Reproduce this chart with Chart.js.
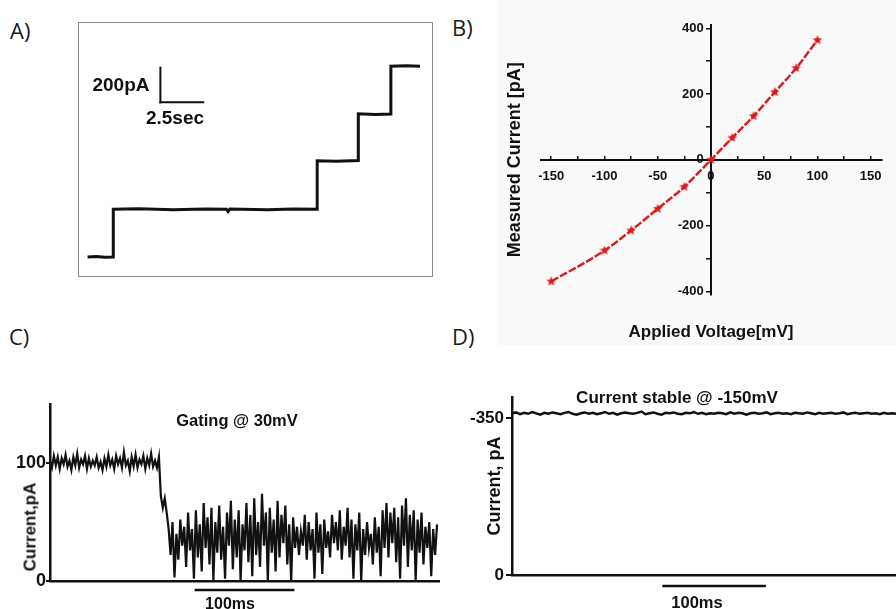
<!DOCTYPE html>
<html>
<head>
<meta charset="utf-8">
<script src="https://cdn.jsdelivr.net/npm/chart.js@4.4.1/dist/chart.umd.min.js"></script>
<style>
  body { margin: 0; width: 896px; height: 609px; position: relative; overflow: hidden; background: #fff; font-family: "Liberation Sans", Arial, sans-serif; }
  canvas { position: absolute; }
  .panel-label { position: absolute; font-family: "Open Sans", sans-serif; font-size: 22px; color: #1a1a1a; line-height: 1; transform: translateY(-50%); }
  .note { position: absolute; font-weight: bold; color: #111; white-space: nowrap; line-height: 1; transform: translate(-50%, -50%); }
  .note.vertical { transform: translate(-50%, -50%) rotate(-90deg); }
  .bg-b { position: absolute; left: 497px; top: 0; width: 399px; height: 345px; background: #f9f9f9; }
  #chartA { outline: 1.5px solid #8a8a8a; }
</style>
</head>
<body>
<div class="bg-b"></div>

<div class="panel-label" style="left:10px; top:30px;">A)</div>
<div class="panel-label" style="left:452px; top:27px;">B)</div>
<div class="panel-label" style="left:9px; top:336px;">C)</div>
<div class="panel-label" style="left:452px; top:336px;">D)</div>

<canvas id="chartA" width="353" height="253" style="left:79px; top:23px;"></canvas>
<canvas id="chartB" width="446" height="350" style="left:450px; top:0px;"></canvas>
<canvas id="chartC" width="450" height="219" style="left:0px; top:390px;"></canvas>
<canvas id="chartD" width="446" height="224" style="left:450px; top:385px;"></canvas>

<div class="note" style="left:121px; top:84px; font-size:19px;">200pA</div>
<div class="note" style="left:175px; top:117px; font-size:19px;">2.5sec</div>
<div class="note" style="left:237px; top:420px; font-size:16.5px;">Gating @ 30mV</div>
<div class="note vertical" style="left:30px; top:527px; font-size:17px;">Current,pA</div>
<div class="note" style="left:230px; top:604px; font-size:16px;">100ms</div>
<div class="note" style="left:677px; top:397px; font-size:17px;">Current stable @ -150mV</div>
<div class="note" style="left:697px; top:602px; font-size:16.5px;">100ms</div>

<script>
// ---- A) step trace (time in s, current in pA above baseline)
const timeA = [0, 0.5, 1.0, 1.5, 1.5, 3.0, 5.0, 6.9, 8.1, 8.2, 8.3, 10.5, 12.0, 13.4, 13.4, 14.5, 15.8, 15.8, 16.8, 17.7, 17.7, 18.6, 19.4];
const currentA = [0, 3, -2, 0, 275, 278, 273, 277, 275, 262, 276, 273, 277, 275, 555, 552, 556, 826, 822, 825, 1100, 1103, 1100];

// ---- B) I-V curve
const voltageB = [-150, -100, -75, -50, -25, 0, 20, 40, 60, 80, 100];
const currentB = [-370, -276, -215, -149, -82, 0, 67, 133, 206, 279, 364];
const ticksBx = [-150, -125, -100, -75, -50, -25, 0, 25, 50, 75, 100, 125, 150];
const ticksBy = [-400, -300, -200, -100, 0, 100, 200, 300, 400];

// ---- C) gating trace at 30 mV, one sample every 2 ms
const sampleStepC = 2;
const currentC = [
  102, 96, 106, 98, 105, 95, 104, 99, 107, 97,
  102, 94, 105, 98, 108, 96, 103, 99, 106, 95,
  104, 97, 102, 98, 105, 96, 101, 94, 104, 97,
  107, 98, 103, 95, 106, 99, 104, 96, 109, 98,
  102, 93, 105, 97, 107, 96, 103, 99, 106, 95,
  104, 98, 108, 97, 102, 96, 105,
  72, 62, 70, 58, 44, 22, 50, 3, 40, 18,
  52, 30, 46, 12, 58, 26, 44, 2, 60, 20,
  48, 8, 66, 28, 54, 14, 62, 0, 50, 24,
  64, 18, 46, 2, 58, 30, 68, 10, 52, 20,
  60, 0, 48, 26, 66, 16, 56, 4, 70, 22,
  50, 12, 74, 30, 58, 0, 62, 24, 52, 8,
  68, 20, 56, 32, 64, 14, 48, 0, 54, 28,
  46, 22, 42, 30, 56, 18, 50, 26, 44, 2,
  58, 24, 48, 6, 52, 28, 42, 20, 56, 32,
  50, 26, 60, 18, 46, 30, 62, 20, 52, 2,
  48, 26, 58, 0, 44, 22, 50, 28, 40, 14,
  54, 24, 46, 4, 60, 28, 66, 20, 58, 32,
  62, 16, 54, 2, 64, 30, 70, 12, 56, 26,
  60, 0, 52, 24, 58, 14, 46, 28, 50, 4,
  44, 22, 48
];
const ticksC = [0, 100];

// ---- D) stable current at -150 mV, one sample every 4 ms
const sampleStepD = 4;
const currentD = [
  -361, -363, -359, -362, -360, -364, -361, -358, -362, -360,
  -363, -361, -359, -362, -364, -360, -358, -361, -363, -360,
  -362, -359, -361, -364, -360, -362, -358, -361, -363, -361,
  -360, -362, -365, -359, -361, -363, -360, -358, -362, -361,
  -363, -360, -359, -362, -361, -364, -360, -362, -359, -361,
  -360, -362, -361, -359, -363, -360, -362, -361, -358, -361,
  -362, -360, -361, -363, -359, -361, -362, -360, -361, -359,
  -362, -361, -360, -363, -361, -359, -362, -360, -361, -362,
  -360, -361, -363, -359, -361, -362, -360, -361, -362, -360,
  -361, -359, -362, -360, -361, -360
];
const ticksD = [-350, 0];

// scale bars, in data units: [x0, y0, x1, y1]
const scaleBarA = [[4.25, 1092, 4.25, 892], [4.25, 892, 6.75, 892]];
const scaleBarC = [[150, -7.6, 250, -7.6]];
const scaleBarD = [[150, 24.5, 250, 24.5]];


Chart.defaults.font.family = '"Liberation Sans", Arial, sans-serif';
Chart.defaults.color = "#111";
Chart.defaults.animation = false;


const scaleBarPlugin = {
  id: "scaleBar",
  afterDraw(chart, args, opts) {
    if (!opts.segments) return;
    const ctx = chart.ctx;
    const xs = chart.scales.x;
    const ys = chart.scales.y;

    ctx.save();
    ctx.strokeStyle = "#111";
    ctx.lineWidth = opts.width || 2;
    ctx.lineCap = "square";
    opts.segments.forEach((s) => {
      ctx.beginPath();
      ctx.moveTo(xs.getPixelForValue(s[0]), ys.getPixelForValue(s[1]));
      ctx.lineTo(xs.getPixelForValue(s[2]), ys.getPixelForValue(s[3]));
      ctx.stroke();
    });
    ctx.restore();
  },
};


function toPoints(xs, ys) {
  return ys.map((v, i) => ({ x: xs[i], y: v }));
}

function sampled(values, step) {
  return values.map((v, i) => ({ x: i * step, y: v }));
}

function fixedTicks(values) {
  return (scale) => {
    scale.ticks = values.map((v) => ({ value: v }));
  };
}

function makeStar(size, color) {
  const c = document.createElement("canvas");
  c.width = size;
  c.height = size;
  const g = c.getContext("2d");
  const r = size / 2;
  g.beginPath();
  for (let i = 0; i < 10; i++) {
    const a = -Math.PI / 2 + (i * Math.PI) / 5;
    const rr = i % 2 ? r * 0.45 : r;
    g.lineTo(r + rr * Math.cos(a), r + rr * Math.sin(a));
  }
  g.closePath();
  g.fillStyle = color;
  g.fill();
  return c;
}

function boldFont(size) {
  return { size: size, weight: "bold" };
}

function hiddenGrid() {
  return { display: false, drawTicks: false };
}


// ---------- A
new Chart(document.getElementById("chartA"), {
  type: "line",
  data: {
    datasets: [{
      data: toPoints(timeA, currentA),
      borderColor: "#111",
      borderWidth: 3,
      pointRadius: 0,
      tension: 0,
    }],
  },
  options: {
    responsive: false,
    layout: { padding: 0 },
    plugins: {
      legend: { display: false },
      tooltip: { enabled: false },
      scaleBar: { segments: scaleBarA, width: 2 },
    },
    scales: {
      x: { type: "linear", min: -0.5, max: 20.1, display: false },
      y: { type: "linear", min: -110, max: 1350, display: false },
    },
  },
  plugins: [scaleBarPlugin],
});


// ---------- B
new Chart(document.getElementById("chartB"), {
  type: "line",
  data: {
    datasets: [{
      data: toPoints(voltageB, currentB),
      borderColor: "#d71f1f",
      borderWidth: 2.5,
      borderDash: [8, 2],
      cubicInterpolationMode: "monotone",
      pointStyle: makeStar(10, "#e01818"),
      pointRadius: 5,
    }],
  },
  options: {
    responsive: false,
    layout: { padding: { left: 54, right: 14, top: 25, bottom: 3 } },
    plugins: { legend: { display: false }, tooltip: { enabled: false } },
    scales: {
      x: {
        type: "linear",
        position: { y: 0 },
        min: -160,
        max: 160,
        afterBuildTicks: fixedTicks(ticksBx),
        ticks: {
          font: boldFont(13),
          color: "#111",
          padding: 14,
          maxRotation: 0,
          autoSkip: false,
          callback: (v) => (v % 50 === 0 ? v : ""),
        },
        grid: { drawOnChartArea: false, tickLength: -5, color: "#111", lineWidth: 1.5 },
        border: { color: "#111", width: 2 },
      },
      y: {
        type: "linear",
        position: { x: 0 },
        min: -410,
        max: 410,
        afterBuildTicks: fixedTicks(ticksBy),
        ticks: {
          font: boldFont(13),
          color: "#111",
          autoSkip: false,
          // labels of a positioned axis sit right on the line, pad them with spaces
          callback: (v) => (v % 200 === 0 ? v + "  " : ""),
        },
        grid: { drawOnChartArea: false, tickLength: 4, color: "#111", lineWidth: 1.5 },
        border: { color: "#111", width: 2 },
      },
      xTitle: {
        type: "linear",
        axis: "x",
        position: "bottom",
        ticks: { display: false },
        grid: hiddenGrid(),
        border: { display: false },
        title: { display: true, text: "Applied Voltage[mV]", font: boldFont(17), color: "#111", padding: { top: 28, bottom: 4 } },
      },
      yTitle: {
        type: "linear",
        axis: "y",
        position: "left",
        ticks: { display: false },
        grid: hiddenGrid(),
        border: { display: false },
        title: { display: true, text: "Measured Current [pA]", font: boldFont(18), color: "#111", padding: { top: 0, bottom: 15 } },
      },
    },
  },
});


// ---------- C
new Chart(document.getElementById("chartC"), {
  type: "line",
  data: {
    datasets: [{
      data: sampled(currentC, sampleStepC),
      borderColor: "#111",
      borderWidth: 2.2,
      pointRadius: 0,
      tension: 0,
    }],
  },
  options: {
    responsive: false,
    layout: { padding: { left: 0, right: 11, top: 14, bottom: 0 } },
    plugins: {
      legend: { display: false },
      tooltip: { enabled: false },
      scaleBar: { segments: scaleBarC, width: 2.5 },
    },
    scales: {
      x: {
        type: "linear",
        min: 0,
        max: 400,
        afterFit: (s) => { s.height = 28; },
        ticks: { display: false },
        grid: hiddenGrid(),
        border: { color: "#111", width: 2.5 },
      },
      y: {
        type: "linear",
        min: 0,
        max: 150,
        afterFit: (s) => { s.width = 50; },
        afterBuildTicks: fixedTicks(ticksC),
        ticks: { font: boldFont(18), color: "#111", padding: 0 },
        grid: { drawOnChartArea: false, tickLength: 4, color: "#111", lineWidth: 2 },
        border: { color: "#111", width: 2.5 },
      },
    },
  },
  plugins: [scaleBarPlugin],
});


// ---------- D
new Chart(document.getElementById("chartD"), {
  type: "line",
  data: {
    datasets: [{
      data: sampled(currentD, sampleStepD),
      borderColor: "#111",
      borderWidth: 2.5,
      pointRadius: 0,
      tension: 0,
    }],
  },
  options: {
    responsive: false,
    layout: { padding: { left: 0, right: 0, top: 12, bottom: 0 } },
    plugins: {
      legend: { display: false },
      tooltip: { enabled: false },
      scaleBar: { segments: scaleBarD, width: 2.5 },
    },
    scales: {
      x: {
        type: "linear",
        min: 0,
        max: 380,
        afterFit: (s) => { s.height = 34; },
        ticks: { display: false },
        grid: hiddenGrid(),
        border: { color: "#111", width: 2.5 },
      },
      y: {
        type: "linear",
        min: -397,
        max: 0,
        reverse: true,
        afterFit: (s) => { s.width = 62; },
        afterBuildTicks: fixedTicks(ticksD),
        ticks: { font: boldFont(17), color: "#111", padding: 2 },
        grid: { drawOnChartArea: false, tickLength: 6, color: "#111", lineWidth: 2 },
        border: { color: "#111", width: 2.5 },
        title: { display: true, text: "Current, pA", font: boldFont(18), color: "#111", padding: { top: 34, bottom: 0 } },
      },
    },
  },
  plugins: [scaleBarPlugin],
});
</script>
</body>
</html>
